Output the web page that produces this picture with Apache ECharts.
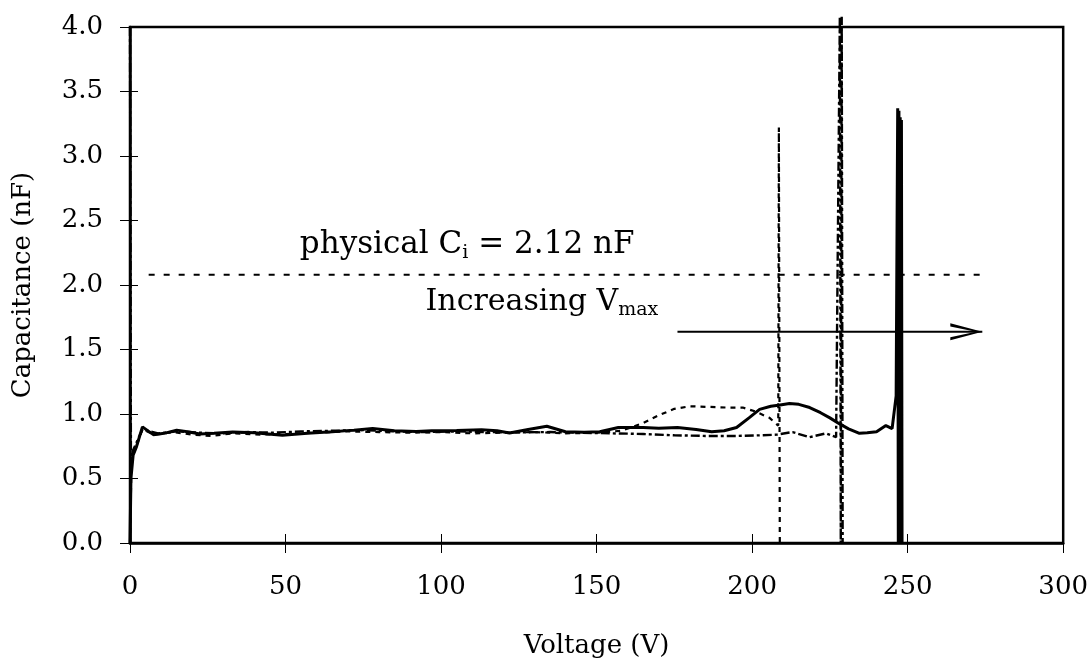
<!DOCTYPE html>
<html>
<head>
<meta charset="utf-8">
<title>Capacitance vs Voltage</title>
<script src="https://cdn.jsdelivr.net/npm/echarts@6/dist/echarts.min.js"></script>
<style>
  html, body { margin: 0; padding: 0; background: #fff; }
  #chart { width: 1091px; height: 664px; }
</style>
</head>
<body>
<div id="chart"></div>
<script>
// x ticks / y ticks
const xTicks = [0, 50, 100, 150, 200, 250, 300];
const yTicks = [0, 0.5, 1, 1.5, 2, 2.5, 3, 3.5, 4];

// solid curve, Vmax ~ 248 V
const solidV = [0, 0.3, 1, 2, 4, 7.5, 11, 15, 19, 22.5, 27, 33, 40, 49, 57, 65, 72, 78, 85, 92, 97, 105, 113, 118, 122, 128, 134, 140, 146, 151, 157, 165, 170, 176, 182, 187, 191, 195, 199, 202.4, 206, 209, 212, 215, 218.5, 222, 225, 228, 231, 234.5, 237, 240, 243, 245, 246.3, 246.8, 247.0, 247.2, 247.4, 247.6, 247.8, 248.0, 248.2];
const solidC = [0, 0.5, 0.68, 0.74, 0.9, 0.84, 0.85, 0.875, 0.86, 0.845, 0.85, 0.86, 0.855, 0.835, 0.85, 0.862, 0.875, 0.888, 0.87, 0.865, 0.87, 0.872, 0.878, 0.87, 0.852, 0.88, 0.905, 0.862, 0.858, 0.862, 0.895, 0.895, 0.89, 0.895, 0.88, 0.862, 0.87, 0.895, 0.97, 1.036, 1.06, 1.07, 1.082, 1.075, 1.05, 1.01, 0.97, 0.925, 0.885, 0.85, 0.855, 0.862, 0.91, 0.887, 1.14, 3.37, 0, 3.35, 0, 3.3, 0, 3.28, 0];

// dotted curve, Vmax ~ 209 V
const dotV = [0, 0.5, 4, 8, 14, 20, 26, 33, 42, 50, 60, 70, 80, 90, 100, 110, 120, 130, 140, 150, 158, 165, 170, 175, 180, 186, 192, 197, 201, 205.6, 208.4, 208.6, 208.9];
const dotC = [0, 0.65, 0.88, 0.84, 0.86, 0.84, 0.83, 0.85, 0.84, 0.845, 0.855, 0.865, 0.86, 0.855, 0.86, 0.85, 0.855, 0.86, 0.85, 0.855, 0.87, 0.93, 0.99, 1.04, 1.06, 1.055, 1.05, 1.05, 1.02, 0.97, 0.91, 3.22, 0];

// dash-dot curve, Vmax ~ 229 V
const dashV = [0, 0.3, 1, 4, 9, 15, 22, 30, 38, 46, 55, 65, 75, 85, 95, 105, 115, 125, 135, 145, 155, 165, 175, 185, 195, 203, 208, 213, 218.4, 223.8, 227, 228.2, 228.5, 228.8, 229.1];
const dashC = [4.0, 0.6, 0.72, 0.88, 0.85, 0.865, 0.855, 0.85, 0.86, 0.855, 0.865, 0.87, 0.875, 0.865, 0.86, 0.865, 0.86, 0.858, 0.86, 0.855, 0.85, 0.845, 0.835, 0.83, 0.83, 0.835, 0.84, 0.86, 0.82, 0.85, 0.82, 4.08, 0, 4.08, 0];

// physical Ci reference line and arrow
const refV = [6, 274];
const refC = [2.08, 2.08];
const arrowV = [176, 274];
const arrowC = [1.637, 1.637];

const zip = (xs, ys) => xs.map((x, i) => [x, ys[i]]);

const FONT = "DejaVu Serif";
const chart = echarts.init(document.getElementById("chart"));

const chevron = "path://M0,0 L30,8 L0,16 L0,13 L24,8 L0,3 Z";

const option = {
  animation: false,
  backgroundColor: "#fff",
  grid: {
    left: 130,
    right: 27,
    top: 27,
    bottom: 120,
    show: true,
    borderColor: "#000",
    borderWidth: 2.5,
  },
  xAxis: [
    {
      type: "value",
      min: 0,
      max: 300,
      interval: 50,
      name: "Voltage (V)",
      nameLocation: "middle",
      nameGap: 90,
      nameTextStyle: { fontFamily: FONT, fontSize: 26, color: "#000" },
      axisLine: { show: true, lineStyle: { color: "#000", width: 2.5 } },
      axisTick: { show: true, length: 10, lineStyle: { color: "#000", width: 1 } },
      axisLabel: {
        margin: 31,
        fontFamily: FONT,
        fontSize: 26,
        color: "#000",
        formatter: (v) => (xTicks.includes(v) ? String(v) : ""),
      },
      splitLine: { show: false },
    },
    {
      type: "value",
      position: "bottom",
      min: 0,
      max: 300,
      interval: 50,
      axisLine: { show: false },
      axisTick: { show: true, inside: true, length: 9, lineStyle: { color: "#000", width: 1 } },
      axisLabel: { show: false },
      splitLine: { show: false },
    },
  ],
  yAxis: [
    {
      type: "value",
      min: 0,
      max: 4,
      interval: 0.5,
      name: "Capacitance (nF)",
      nameLocation: "middle",
      nameGap: 94,
      nameTextStyle: { fontFamily: FONT, fontSize: 26, color: "#000" },
      axisLine: { show: true, lineStyle: { color: "#000", width: 2.5 } },
      axisTick: { show: true, length: 10, lineStyle: { color: "#000", width: 1 } },
      axisLabel: {
        margin: 27,
        fontFamily: FONT,
        fontSize: 26,
        color: "#000",
        formatter: (v) => (yTicks.includes(v) ? v.toFixed(1) : ""),
      },
      splitLine: { show: false },
    },
    {
      type: "value",
      position: "left",
      min: 0,
      max: 4,
      interval: 0.5,
      axisLine: { show: false },
      axisTick: { show: true, inside: true, length: 8, lineStyle: { color: "#000", width: 1 } },
      axisLabel: { show: false },
      splitLine: { show: false },
    },
  ],
  series: [
    {
      name: "Vmax 209",
      type: "line",
      data: zip(dotV, dotC),
      showSymbol: false,
      clip: false,
      lineStyle: { color: "#000", width: 2.2, type: [5, 5] },
    },
    {
      name: "Vmax 229",
      type: "line",
      data: zip(dashV, dashC),
      showSymbol: false,
      clip: false,
      lineStyle: { color: "#000", width: 2.4, type: [9, 3, 3, 3] },
    },
    {
      name: "Vmax 248",
      type: "line",
      data: zip(solidV, solidC),
      showSymbol: false,
      clip: false,
      lineStyle: { color: "#000", width: 3 },
    },
    {
      name: "physical Ci",
      type: "line",
      data: zip(refV, refC),
      showSymbol: false,
      lineStyle: { color: "#000", width: 2, type: [6, 9] },
    },
    {
      name: "arrow",
      type: "line",
      data: [
        { value: [arrowV[0], arrowC[0]], symbol: "none" },
        { value: [arrowV[1], arrowC[1]], symbol: chevron, symbolSize: [32, 17], symbolOffset: [-16, 0] },
      ],
      showSymbol: true,
      itemStyle: { color: "#000" },
      lineStyle: { color: "#000", width: 2 },
    },
    {
      name: "labels",
      type: "scatter",
      symbolSize: 0,
      itemStyle: { opacity: 1 },
      data: [
        { value: [54.6, 2.31], label: { formatter: "{p|physical C}{s|i}{p| = 2.12 nF}" } },
        { value: [95, 1.87], label: { formatter: "{n|Increasing V}{s|max}" } },
      ],
      label: {
        show: true,
        position: "right",
        distance: 0,
        color: "#000",
        opacity: 1,
        rich: {
          p: { fontFamily: FONT, fontSize: 31, lineHeight: 36, color: "#000" },
          n: { fontFamily: FONT, fontSize: 30, lineHeight: 36, color: "#000" },
          s: { fontFamily: FONT, fontSize: 19, lineHeight: 19, verticalAlign: "bottom", color: "#000" },
        },
      },
    },
  ],
};

chart.setOption(option);
</script>
</body>
</html>
